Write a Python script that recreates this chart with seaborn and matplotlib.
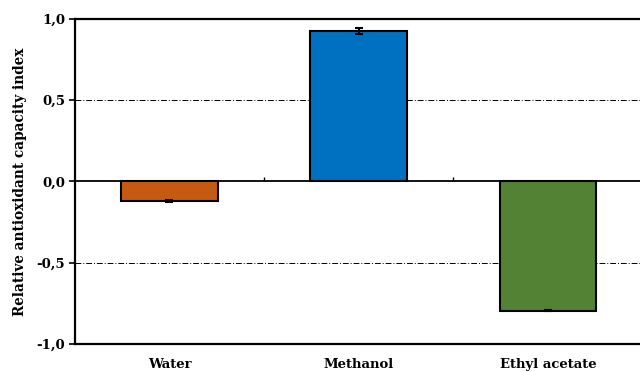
import matplotlib
matplotlib.use("Agg")
import matplotlib.pyplot as plt
import seaborn as sns
import pandas as pd

solvents = ["Water", "Methanol", "Ethyl acetate"]
index_values = [-0.123, 0.923, -0.794]
index_errors = [0.006, 0.018, 0.004]
bar_colors = ["#C55A11", "#0070C0", "#548235"]
y_ticks = [-1.0, -0.5, 0.0, 0.5, 1.0]
y_tick_labels = ["-1,0", "-0,5", "0,0", "0,5", "1,0"]

sns.set_theme(style="white")
plt.rcParams["font.family"] = ["DejaVu Serif"]
plt.rcParams["text.color"] = "black"
plt.rcParams["axes.labelcolor"] = "black"

df = pd.DataFrame({"solvent": solvents, "value": index_values})

fig = plt.figure(figsize=(6.4, 3.72), dpi=100)
ax = fig.add_axes([0.117, 0.0753, 0.887, 0.874])

sns.barplot(data=df, x="solvent", y="value", hue="solvent", palette=bar_colors,
            order=solvents, hue_order=solvents, legend=False, width=0.51,
            saturation=1, edgecolor="black", linewidth=1.5, errorbar=None,
            ax=ax, zorder=3)

centers = [p.get_x() + p.get_width() / 2 for p in ax.patches]
ax.errorbar(centers, index_values, yerr=index_errors, fmt="none",
            ecolor="black", elinewidth=1.5, capsize=3, capthick=1.5, zorder=4)

ax.set_xlim(-0.5, 2.5)
ax.set_ylim(-1.0, 1.0)
ax.set_yticks(y_ticks)
ax.set_yticklabels(y_tick_labels, fontsize=9.5, fontweight="bold")
for lbl in ax.get_xticklabels():
    lbl.set_fontsize(9.5)
    lbl.set_fontweight("bold")

# dash-dot reference lines and the zero baseline
for yv in (0.5, -0.5):
    ax.axhline(yv, color="black", linestyle=(0, (6, 2, 1, 2)), linewidth=0.7, zorder=1)
ax.axhline(0.0, color="black", linewidth=1.3, zorder=5)
ax.vlines([0.5, 1.5], 0.0, 0.025, color="black", linewidth=1.0, zorder=5)

ax.set_xlabel("")
ax.set_ylabel("Relative antioxidant capacity index", fontsize=9.8,
              fontweight="bold", labelpad=7, color="black")

for side in ("left", "top", "bottom"):
    ax.spines[side].set_color("black")
    ax.spines[side].set_linewidth(1.6)
ax.spines["right"].set_visible(False)

ax.tick_params(axis="y", which="major", direction="out", length=4, width=1.2,
               color="black", left=True, pad=3, labelcolor="black")
ax.tick_params(axis="x", which="major", bottom=False, pad=4, labelcolor="black")

fig.savefig("out.png", dpi=100)
